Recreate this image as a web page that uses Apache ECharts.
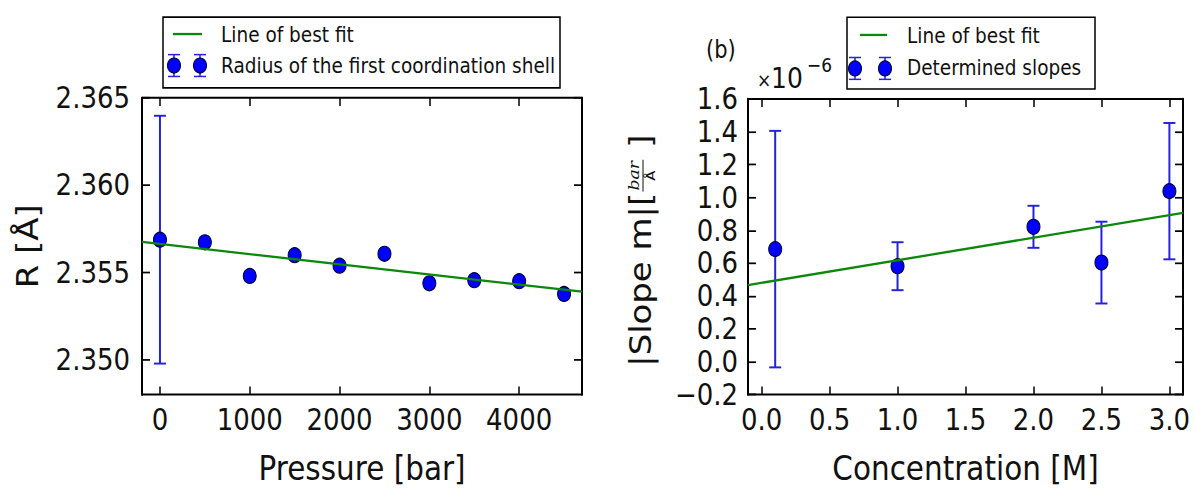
<!DOCTYPE html>
<html>
<head>
<meta charset="utf-8">
<script src="https://cdn.jsdelivr.net/npm/echarts@6/dist/echarts.min.js"></script>
<style>
  html, body { margin: 0; padding: 0; background: #fff; overflow: hidden; }
  #wrap { width: 1195px; height: 491px; overflow: hidden; }
  /* the figure is laid out at 1195x427 and stretched to the full page height */
  #chart { width: 1195px; height: 427px; transform-origin: 0 0; transform: scaleY(1.1499); }
</style>
</head>
<body>
<div id="wrap"><div id="chart"></div></div>
<script>
// ---- Panel (a): radius of the first coordination shell vs pressure ----
const pressure = [0, 500, 1000, 1500, 2000, 2500, 3000, 3500, 4000, 4500];
const radius = [2.35688, 2.35673, 2.35480, 2.35599, 2.35539, 2.35607, 2.35438, 2.35456, 2.35450, 2.35377];
const radiusErr = [0.0071, 0, 0, 0, 0, 0, 0, 0, 0, 0];
const fitPressure = [-200, 4700];
const fitRadius = [2.35675, 2.35390];
const pressureTicks = [0, 1000, 2000, 3000, 4000];
const radiusTicks = [2.350, 2.355, 2.360, 2.365];

// ---- Panel (b): determined slopes vs concentration (units of 1e-6 bar/Å) ----
const concentration = [0.1, 1.0, 2.0, 2.5, 3.0];
const slope = [0.686, 0.582, 0.822, 0.604, 1.039];
const slopeErr = [0.720, 0.146, 0.128, 0.249, 0.415];
const fitConc = [-0.1, 3.1];
const fitSlope = [0.467, 0.907];
const concTicks = [0, 0.5, 1.0, 1.5, 2.0, 2.5, 3.0];

const FAMILY = 'DejaVu Sans';
const TXT = '#111';
const BLUE = '#0000ff';
const ERR = '#2323dc';
const GREEN = '#0b870b';

const chart = echarts.init(document.getElementById('chart'), null, { renderer: 'svg' });

function zip(xs, ys, es) {
  return xs.map((x, i) => es ? [x, ys[i], es[i]] : [x, ys[i]]);
}

function errorBars(params, api) {
  const x = api.value(0), y = api.value(1), e = api.value(2);
  if (!e) return null;
  const top = api.coord([x, y + e]);
  const bot = api.coord([x, y - e]);
  const hw = 6;
  const vStyle = { stroke: ERR, lineWidth: 2 };
  const hStyle = { stroke: ERR, lineWidth: 1.7 };
  return {
    type: 'group',
    children: [
      { type: 'line', shape: { x1: top[0], y1: top[1], x2: bot[0], y2: bot[1] }, style: vStyle },
      { type: 'line', shape: { x1: top[0] - hw, y1: top[1], x2: top[0] + hw, y2: top[1] }, style: hStyle },
      { type: 'line', shape: { x1: bot[0] - hw, y1: bot[1], x2: bot[0] + hw, y2: bot[1] }, style: hStyle }
    ]
  };
}

function ticks(len, extra) {
  return Object.assign({ show: true, inside: true, length: len, lineStyle: { color: '#000', width: 1.5 } }, extra);
}

function frameAxis(horizontal, extra) {
  return Object.assign({
    type: 'value',
    axisLine: { show: true, onZero: false, lineStyle: { color: '#000', width: horizontal ? 1.75 : 2 } },
    splitLine: { show: false },
    axisTick: ticks(horizontal ? 7 : 8),
    axisLabel: { show: false }
  }, extra);
}

function labelStyle(fmt, extra) {
  return Object.assign({ show: true, fontFamily: FAMILY, fontSize: 26, color: TXT, formatter: fmt }, extra);
}

const nameStyle = { fontFamily: FAMILY, fontSize: 29.5, color: TXT };

// text width helper for the composite axis title of panel (b)
const measureCtx = document.createElement('canvas').getContext('2d');
function textWidth(str, font) { measureCtx.font = font; return measureCtx.measureText(str).width; }

const mainPart = '|Slope m|[';
const closePart = ' ]';
const MAIN_SIZE = 29.5;
const wMain = textWidth(mainPart, MAIN_SIZE + 'px "DejaVu Sans"');
const wNum = textWidth('bar', 'italic 15px "DejaVu Serif"');
const wDen = textWidth('Å', '13px "DejaVu Sans"');
const wFrac = Math.max(wNum, wDen) + 4;
const wClose = textWidth(closePart, MAIN_SIZE + 'px "DejaVu Sans"');
const wTotal = wMain + wFrac + wClose;
const x0 = -wTotal / 2;

function txt(x, y, text, size, extra) {
  return {
    type: 'text', x: x, y: y, z: 11,
    style: Object.assign({ text: text, fontSize: size, fontFamily: FAMILY, fill: TXT, verticalAlign: 'middle' }, extra)
  };
}

// legend glyph: marker with a capped error bar
function legendMarker(cx, cy) {
  const v = { stroke: ERR, lineWidth: 1.5 };
  const h = { stroke: ERR, lineWidth: 1.3 };
  return [
    { type: 'line', shape: { x1: cx, y1: cy - 9.5, x2: cx, y2: cy + 9.5 }, style: v, z: 11 },
    { type: 'line', shape: { x1: cx - 6, y1: cy - 9.5, x2: cx + 6, y2: cy - 9.5 }, style: h, z: 11 },
    { type: 'line', shape: { x1: cx - 6, y1: cy + 9.5, x2: cx + 6, y2: cy + 9.5 }, style: h, z: 11 },
    { type: 'circle', shape: { cx: cx, cy: cy, r: 6.5 },
      style: { fill: BLUE, stroke: '#000033', lineWidth: 1 }, z: 12 }
  ];
}

const option = {
  backgroundColor: '#fff',
  animation: false,
  grid: [
    { left: 142, top: 85.2, width: 440, height: 267.8 },
    { left: 748, top: 86.1, width: 435, height: 266.1 }
  ],
  xAxis: [
    frameAxis(true, {
      gridIndex: 0, position: 'bottom', min: -200, max: 4700,
      axisTick: ticks(7, { customValues: pressureTicks }),
      axisLabel: labelStyle(v => String(v), { customValues: pressureTicks, margin: 8.5 }),
      name: 'Pressure [bar]', nameLocation: 'middle', nameGap: 48.8, nameTextStyle: nameStyle
    }),
    frameAxis(true, {
      gridIndex: 0, position: 'top', min: -200, max: 4700,
      axisTick: ticks(7, { customValues: pressureTicks })
    }),
    frameAxis(true, {
      gridIndex: 1, position: 'bottom', min: -0.1, max: 3.1,
      axisTick: ticks(7, { customValues: concTicks }),
      axisLabel: labelStyle(v => v.toFixed(1), { customValues: concTicks, margin: 8.5 }),
      name: 'Concentration [M]', nameLocation: 'middle', nameGap: 48.8, nameTextStyle: nameStyle
    }),
    frameAxis(true, {
      gridIndex: 1, position: 'top', min: -0.1, max: 3.1,
      axisTick: ticks(7, { customValues: concTicks })
    })
  ],
  yAxis: [
    frameAxis(false, {
      gridIndex: 0, position: 'left', min: 2.348, max: 2.365,
      axisTick: ticks(8, { customValues: radiusTicks }),
      axisLabel: labelStyle(v => v.toFixed(3), { customValues: radiusTicks, margin: 12 }),
      name: 'R [Å]', nameLocation: 'middle', nameGap: 99, nameRotate: 90, nameTextStyle: nameStyle
    }),
    frameAxis(false, {
      gridIndex: 0, position: 'right', min: 2.348, max: 2.365,
      axisTick: ticks(8, { customValues: radiusTicks })
    }),
    frameAxis(false, {
      gridIndex: 1, position: 'left', min: -0.2, max: 1.6, interval: 0.2,
      axisLabel: labelStyle(v => (v < -1e-9 ? '\u2212' : '') + Math.abs(v).toFixed(1), { margin: 10 })
    }),
    frameAxis(false, {
      gridIndex: 1, position: 'right', min: -0.2, max: 1.6, interval: 0.2
    })
  ],
  series: [
    {
      type: 'custom', xAxisIndex: 0, yAxisIndex: 0, z: 2,
      renderItem: errorBars, data: zip(pressure, radius, radiusErr)
    },
    {
      type: 'scatter', xAxisIndex: 0, yAxisIndex: 0, z: 3,
      symbol: 'circle', symbolSize: 13,
      itemStyle: { color: BLUE, borderColor: '#000033', borderWidth: 1, opacity: 1 },
      data: zip(pressure, radius)
    },
    {
      type: 'line', xAxisIndex: 0, yAxisIndex: 0, z: 4,
      showSymbol: false, clip: true,
      lineStyle: { color: GREEN, width: 2 },
      data: zip(fitPressure, fitRadius)
    },
    {
      type: 'custom', xAxisIndex: 2, yAxisIndex: 2, z: 2,
      renderItem: errorBars, data: zip(concentration, slope, slopeErr)
    },
    {
      type: 'scatter', xAxisIndex: 2, yAxisIndex: 2, z: 3,
      symbol: 'circle', symbolSize: 13,
      itemStyle: { color: BLUE, borderColor: '#000033', borderWidth: 1, opacity: 1 },
      data: zip(concentration, slope)
    },
    {
      type: 'line', xAxisIndex: 2, yAxisIndex: 2, z: 4,
      showSymbol: false, clip: true,
      lineStyle: { color: GREEN, width: 2 },
      data: zip(fitConc, fitSlope)
    }
  ],
  graphic: [
    // legend of panel (a)
    { type: 'rect', shape: { x: 163, y: 14.8, width: 397, height: 61.7 },
      style: { fill: '#fff', stroke: '#000', lineWidth: 1.5 }, z: 10 },
    { type: 'line', shape: { x1: 173, y1: 29.6, x2: 202, y2: 29.6 },
      style: { stroke: GREEN, lineWidth: 2 }, z: 11 },
    txt(221, 30.7, 'Line of best fit', 18.5),
    ...legendMarker(174, 57), ...legendMarker(200, 57),
    txt(221, 57.5, 'Radius of the first coordination shell', 18.5),

    // legend of panel (b)
    { type: 'rect', shape: { x: 847, y: 15, width: 248, height: 62.4 },
      style: { fill: '#fff', stroke: '#000', lineWidth: 1.5 }, z: 10 },
    { type: 'line', shape: { x1: 860, y1: 30.4, x2: 887, y2: 30.4 },
      style: { stroke: GREEN, lineWidth: 2 }, z: 11 },
    txt(907, 31.6, 'Line of best fit', 18.5),
    ...legendMarker(855, 59.5), ...legendMarker(885, 59.5),
    txt(907, 59.2, 'Determined slopes', 18.5),

    // panel tag and axis multiplier
    txt(706, 43, '(b)', 21),
    txt(757, 78.3, '\u00d7', 17, { verticalAlign: 'bottom' }),
    txt(771, 80.5, '10', 25, { verticalAlign: 'bottom' }),
    txt(807, 56.5, '\u22126', 17),

    // y-axis title of panel (b) with a stacked fraction
    {
      type: 'group', x: 641, y: 218, rotation: Math.PI / 2, z: 11,
      children: [
        { type: 'text', x: x0, y: 0,
          style: { text: mainPart, fontSize: MAIN_SIZE, fontFamily: FAMILY, fill: TXT, verticalAlign: 'middle' } },
        { type: 'text', x: x0 + wMain + wFrac / 2, y: 0.5,
          style: { text: 'bar', fontSize: 15, fontFamily: 'DejaVu Serif', fontStyle: 'italic', fill: TXT,
                   align: 'center', verticalAlign: 'bottom' } },
        { type: 'line', shape: { x1: x0 + wMain + 1, y1: 2, x2: x0 + wMain + wFrac - 1, y2: 2 },
          style: { stroke: TXT, lineWidth: 1 } },
        { type: 'text', x: x0 + wMain + wFrac / 2, y: 3,
          style: { text: 'Å', fontSize: 13, fontFamily: FAMILY, fill: TXT, align: 'center', verticalAlign: 'top' } },
        { type: 'text', x: x0 + wMain + wFrac, y: 0,
          style: { text: closePart, fontSize: MAIN_SIZE, fontFamily: FAMILY, fill: TXT, verticalAlign: 'middle' } }
      ]
    }
  ]
};

chart.setOption(option);
</script>
</body>
</html>
